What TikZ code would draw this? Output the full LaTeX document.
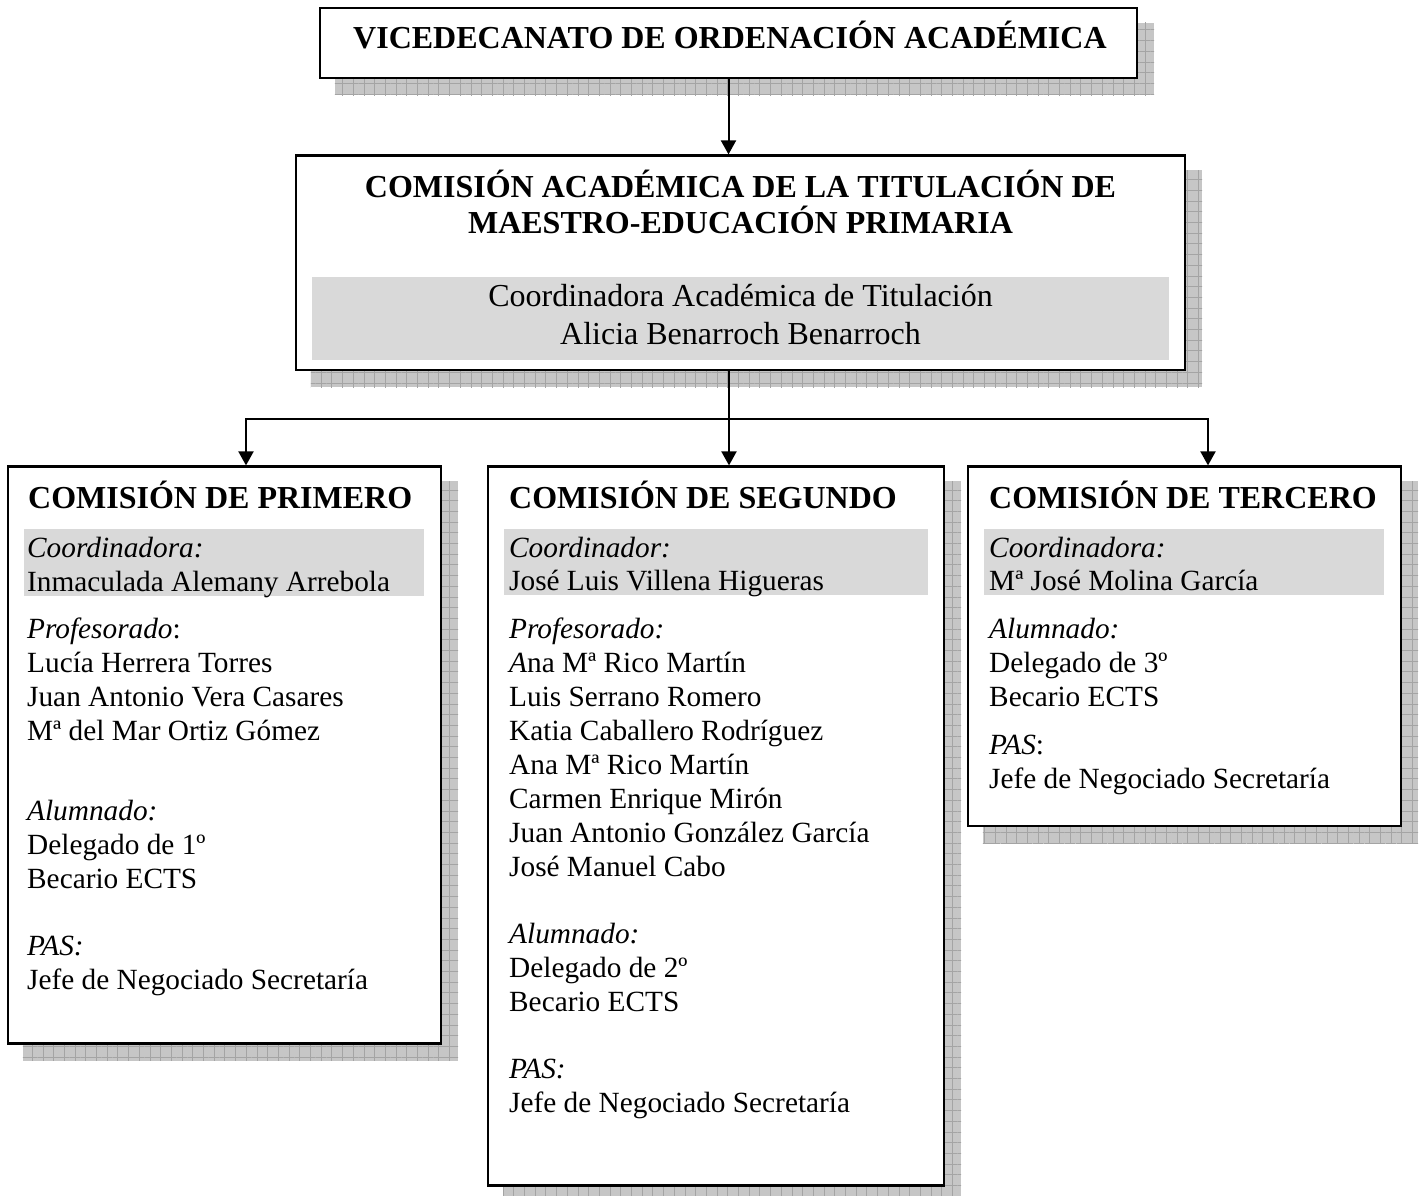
\documentclass[tikz,border=0pt]{standalone}
\usepackage{fontspec}
\setmainfont{Liberation Serif}
\usetikzlibrary{arrows.meta,backgrounds,patterns.meta}
\definecolor{bandgray}{HTML}{D9D9D9}
\definecolor{shadowgray}{HTML}{C6C6C6}
\definecolor{gridgray}{HTML}{A4A4A4}
\newcommand{\bodysize}{\fontsize{29.3}{34}\selectfont}
\newcommand{\bandsize}{\fontsize{32}{37}\selectfont}
\newcommand{\headsize}{\fontsize{32}{37}\selectfont\bfseries}
\tikzset{
  orgbox/.style={rectangle, draw=black, line width=2.2pt, fill=white, inner sep=0pt},
  boxhead/.style={font=\headsize, inner sep=0pt, anchor=base west},
  boxtext/.style={font=\bodysize, inner sep=0pt, anchor=base west},
  grayband/.style={fill=bandgray},
  link/.style={line width=2pt, -{Triangle[width=15pt,length=14pt]}},
}

\begin{document}
\begin{tikzpicture}[x=1pt,y=-1pt]
	\useasboundingbox (0,0) rectangle (1419,1196);
	% boxes
	\node[orgbox, minimum width=817pt, minimum height=70pt] (vice) at (728.5,43) {};
	\node[orgbox, minimum width=889pt, minimum height=214.5pt] (cat) at (740.5,262.75) {};
	\node[orgbox, minimum width=433pt, minimum height=577pt] (prim) at (224.5,755) {};
	\node[orgbox, minimum width=456pt, minimum height=719pt] (seg) at (716,826) {};
	\node[orgbox, minimum width=433pt, minimum height=359.5pt] (terc) at (1184.5,646.25) {};
	% shadows
	\begin{scope}[on background layer]
		\foreach \b in {vice,cat,prim,seg,terc}{
			\fill[shadowgray] ([shift={(16pt,-16pt)}]\b.south west) rectangle ([shift={(16pt,-16pt)}]\b.north east);
			\fill[pattern={Lines[distance=10.7pt,angle=0,line width=0.5pt]}, pattern color=gridgray]
				([shift={(16pt,-16pt)}]\b.south west) rectangle ([shift={(16pt,-16pt)}]\b.north east);
			\fill[pattern={Lines[distance=10.7pt,angle=90,line width=0.5pt]}, pattern color=gridgray]
				([shift={(16pt,-16pt)}]\b.south west) rectangle ([shift={(16pt,-16pt)}]\b.north east);
		}
	\end{scope}
	% gray bands
	\fill[grayband] (312,277) rectangle (1169,360);
	\fill[grayband] (24,529) rectangle (424,596);
	\fill[grayband] (504,529) rectangle (928,595);
	\fill[grayband] (984,529) rectangle (1384,595);
	% connectors
	\coordinate (fork) at (729,419);
	\draw[link] (vice.south) -- (vice.south |- cat.north);
	\draw[line width=2pt] (cat.south -| fork) -- (fork);
	\draw[link] (fork) -- (fork |- seg.north);
	\draw[link] (fork) -| ([xshift=21.5pt]prim.north);
	\draw[link] (fork) -| ([xshift=23.5pt]terc.north);
	% titles
	\node[boxhead, anchor=base] (vice-t) at (730,48.5) {VICEDECANATO DE ORDENACIÓN ACADÉMICA};
	\node[boxhead, anchor=base] (cat-t1) at (740.5,197) {COMISIÓN ACADÉMICA DE LA TITULACIÓN DE};
	\node[boxhead, anchor=base] (cat-t2) at (740.5,233) {MAESTRO-EDUCACIÓN PRIMARIA};
	\node[boxtext, font=\bandsize, anchor=base] (cat-c1) at (740.5,306) {Coordinadora Académica de Titulación};
	\node[boxtext, font=\bandsize, anchor=base] (cat-c2) at (740.5,344) {Alicia Benarroch Benarroch};
	\node[boxhead] (prim-t) at (28,508) {COMISIÓN DE PRIMERO};
	\node[boxhead] (seg-t) at (509,508) {COMISIÓN DE SEGUNDO};
	\node[boxhead] (terc-t) at (989,508) {COMISIÓN DE TERCERO};
	% members
	\foreach \y/\t [count=\i] in {557/\textit{Coordinadora:}, 591/Inmaculada Alemany Arrebola,
		638/\textit{Profesorado}:, 672/Lucía Herrera Torres, 706/Juan Antonio Vera Casares,
		740/Mª del Mar Ortiz Gómez, 820/\textit{Alumnado:}, 854/Delegado de 1º, 888/Becario ECTS,
		955/\textit{PAS:}, 989/Jefe de Negociado Secretaría}
		\node[boxtext] (prim-\i) at (27,\y) {\t};
	\foreach \y/\t [count=\i] in {557/\textit{Coordinador:}, 590/José Luis Villena Higueras,
		638/\textit{Profesorado:}, 672/\textit{A}na Mª Rico Martín, 706/Luis Serrano Romero,
		740/Katia Caballero Rodríguez, 774/Ana Mª Rico Martín, 808/Carmen Enrique Mirón,
		842/Juan Antonio González García, 876/José Manuel Cabo, 943/\textit{Alumnado:},
		977/Delegado de 2º, 1011/Becario ECTS, 1078/\textit{PAS:}, 1112/Jefe de Negociado Secretaría}
		\node[boxtext] (seg-\i) at (509,\y) {\t};
	\foreach \y/\t [count=\i] in {557/\textit{Coordinadora:}, 590/Mª José Molina García,
		638/\textit{Alumnado:}, 672/Delegado de 3º, 706/Becario ECTS, 754/\textit{PAS}:,
		788/Jefe de Negociado Secretaría}
		\node[boxtext] (terc-\i) at (989,\y) {\t};
\end{tikzpicture}
\end{document}
